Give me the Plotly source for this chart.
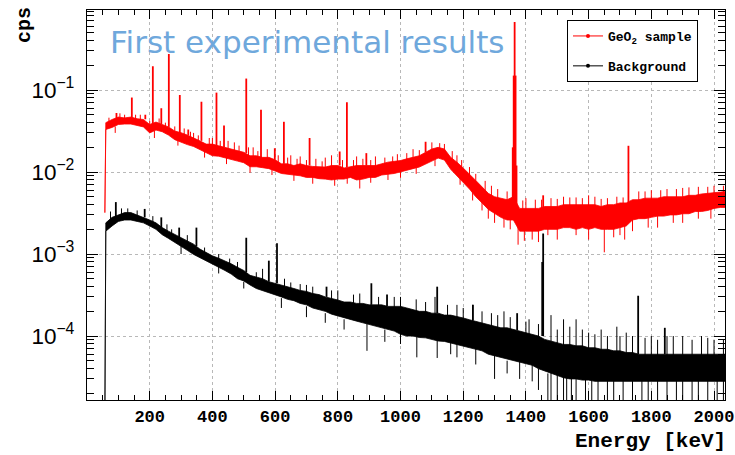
import plotly.graph_objects as go

# ---------------- data ----------------
energy_grid = [60, 80, 100, 120, 140, 160, 180, 200, 220, 240, 260, 280, 300, 320, 340, 360, 380, 400, 420, 440,
               460, 480, 500, 520, 540, 560, 580, 600, 620, 640, 660, 680, 700, 720, 740, 760, 780, 800, 820, 840,
               860, 880, 900, 920, 940, 960, 980, 1000, 1020, 1040, 1060, 1080, 1100, 1120, 1140, 1160, 1180, 1200,
               1220, 1240, 1260, 1280, 1300, 1320, 1340, 1360, 1380, 1400, 1420, 1440, 1460, 1480, 1500, 1520, 1540,
               1560, 1580, 1600, 1620, 1640, 1660, 1680, 1700, 1720, 1740, 1760, 1780, 1800, 1820, 1840, 1860, 1880,
               1900, 1920, 1940, 1960, 1980, 2000, 2020, 2040]

# GeO2 sample: upper / lower edge of the noise band (cps)
geo2_upper = [0.040, 0.0437, 0.0468, 0.0457, 0.0468, 0.0447, 0.0437, 0.0380, 0.0407, 0.0380, 0.0355, 0.0316, 0.0302,
              0.0282, 0.0263, 0.0240, 0.0219, 0.0219, 0.0209, 0.0200, 0.0191, 0.0182, 0.0174, 0.0158, 0.0158, 0.0151,
              0.0151, 0.0141, 0.0126, 0.0126, 0.0120, 0.0126, 0.0120, 0.0117, 0.0117, 0.0115, 0.0120, 0.0120, 0.0112,
              0.0117, 0.0120, 0.0120, 0.0120, 0.0120, 0.0126, 0.0132, 0.0135, 0.0138, 0.0145, 0.0151, 0.0158, 0.0174,
              0.0191, 0.0200, 0.0191, 0.0151, 0.0132, 0.0112, 0.0095, 0.0079, 0.0066, 0.0055, 0.0050, 0.0048, 0.0046,
              0.0050, 0.0036, 0.0036, 0.0036, 0.0036, 0.0038, 0.0038, 0.0038, 0.0040, 0.0040, 0.0040, 0.0040, 0.0040,
              0.0040, 0.0038, 0.0040, 0.0040, 0.0042, 0.0042, 0.0046, 0.0046, 0.0048, 0.0048, 0.0048, 0.0050, 0.0050,
              0.0050, 0.0050, 0.0052, 0.0052, 0.0054, 0.0055, 0.0056, 0.0058, 0.0058]
geo2_lower = [0.0330, 0.0350, 0.0380, 0.0385, 0.0385, 0.0370, 0.0355, 0.0300, 0.0325, 0.0310, 0.0282, 0.0248, 0.0232,
              0.0216, 0.0205, 0.0188, 0.0172, 0.0158, 0.0156, 0.0150, 0.0143, 0.0136, 0.0130, 0.0116, 0.0116, 0.0113,
              0.0110, 0.0103, 0.0096, 0.0094, 0.0092, 0.0090, 0.0086, 0.0086, 0.0083, 0.0082, 0.0080, 0.0082, 0.0082,
              0.0086, 0.0080, 0.0082, 0.0086, 0.0086, 0.0092, 0.0094, 0.0096, 0.0100, 0.0105, 0.0110, 0.0115, 0.0124,
              0.0136, 0.0148, 0.0140, 0.0108, 0.0090, 0.0074, 0.0062, 0.0050, 0.0042, 0.0035, 0.0031, 0.0028, 0.0026,
              0.0026, 0.0019, 0.0019, 0.0019, 0.0019, 0.0020, 0.0020, 0.0020, 0.0021, 0.0021, 0.0020, 0.0021, 0.0020,
              0.0021, 0.0020, 0.0020, 0.0020, 0.0021, 0.0022, 0.0026, 0.0027, 0.0027, 0.0028, 0.0029, 0.0029, 0.0030,
              0.0030, 0.0031, 0.0031, 0.0033, 0.0033, 0.0034, 0.0036, 0.0037, 0.0037]

# Background: upper / lower edge of the noise band (cps)
bkg_upper = [0.0024, 0.0028, 0.0030, 0.0032, 0.0032, 0.0030, 0.0028, 0.0026, 0.0024, 0.0021, 0.0019, 0.00174, 0.00158,
             0.00145, 0.00132, 0.00115, 0.00105, 0.00095, 0.00089, 0.00083, 0.00076, 0.00069, 0.00063, 0.00055,
             0.00052, 0.00050, 0.00046, 0.00044, 0.00042, 0.00040, 0.00038, 0.00036, 0.00035, 0.00033, 0.00032,
             0.00030, 0.00029, 0.000275, 0.00026, 0.00026, 0.00025, 0.00025, 0.00024, 0.00024, 0.00024, 0.00023,
             0.00023, 0.00023, 0.00022, 0.00021, 0.00020, 0.00020, 0.00019, 0.00019, 0.00018, 0.00018, 0.000174,
             0.000166, 0.000158, 0.000151, 0.000145, 0.000138, 0.000132, 0.000126, 0.000126, 0.00012, 0.000115,
             0.00011, 0.000105, 0.0001, 0.000091, 0.000087, 0.000083, 0.000079, 0.000079, 0.000076, 0.000076,
             0.000072, 0.000072, 0.000069, 0.000069, 0.000066, 0.000066, 0.000063, 0.000063, 0.00006, 0.00006,
             0.00006, 0.00006, 0.00006, 0.00006, 0.00006, 0.00006, 0.00006, 0.00006, 0.00006, 0.00006, 0.00006,
             0.00006, 0.00006]
bkg_lower = [0.0019, 0.0022, 0.0025, 0.0026, 0.0026, 0.0025, 0.0024, 0.0022, 0.0020, 0.00172, 0.00155, 0.0014, 0.00125,
             0.00111, 0.00099, 0.0009, 0.00082, 0.00075, 0.00069, 0.00063, 0.00057, 0.0005, 0.00047, 0.00042,
             0.00038, 0.00036, 0.00034, 0.00032, 0.0003, 0.00028, 0.00027, 0.00025, 0.00024, 0.00022, 0.00021,
             0.0002, 0.000185, 0.000175, 0.000165, 0.00016, 0.000152, 0.000145, 0.000138, 0.000132, 0.000126,
             0.00012, 0.000115, 0.000105, 0.0001, 0.0001, 0.000096, 0.000095, 0.00009, 0.000087, 0.000086,
             0.000083, 0.000079, 0.000076, 0.000072, 0.000069, 0.000066, 0.00006, 0.000057, 0.000055, 0.000052,
             0.00005, 0.000048, 0.000046, 0.000044, 0.00004, 0.000037, 0.000035, 0.000033, 0.000031, 0.00003,
             0.00003, 0.000029, 0.000029, 0.000028, 0.000028, 0.000028, 0.000028, 0.000028, 0.000028, 0.000028,
             0.000028, 0.000028, 0.000028, 0.000028, 0.000028, 0.000028, 0.000028, 0.000028, 0.000028, 0.000028,
             0.000028, 0.000028, 0.000028, 0.000028, 0.000028]

# first bin (spectrum start edge)
geo2_start_E, geo2_start_val = 57, 0.0032
bkg_start_E, bkg_start_val = 57, 0.00001

# gamma lines: energy, tip, base (cps)
geo2_peak_E = [94, 143, 186, 210, 237, 261, 296, 323, 365, 413, 437, 508, 555, 599, 628, 710, 806, 829, 891, 1080,
               1358, 1361, 1364, 1367, 1370, 1455, 1727]
geo2_peak_top = [0.0525, 0.081, 0.050, 0.195, 0.060, 0.275, 0.087, 0.033, 0.072, 0.093, 0.037, 0.138, 0.0575, 0.0195,
                 0.041, 0.026, 0.0178, 0.071, 0.017, 0.0234, 0.02, 0.15, 0.676, 0.15, 0.012, 0.0052, 0.0209]
geo2_peak_base = [0.044, 0.046, 0.044, 0.038, 0.038, 0.0355, 0.030, 0.028, 0.024, 0.021, 0.020, 0.017, 0.015, 0.0141,
                  0.0126, 0.012, 0.012, 0.0115, 0.012, 0.0174, 0.0045, 0.0045, 0.0045, 0.0040, 0.0036, 0.0036, 0.0042]

bkg_peak_E = [92, 184, 237, 294, 349, 508, 580, 606, 764, 907, 957, 1117, 1231, 1372, 1452, 1455, 1758, 1843]
bkg_peak_top = [0.0043, 0.00355, 0.0028, 0.0021, 0.0021, 0.00158, 0.00083, 0.00135, 0.0004, 0.00044, 0.00032, 0.0004,
                0.00024, 0.00019, 0.0008, 0.00178, 0.00031, 0.000126]
bkg_peak_base = [0.0028, 0.0028, 0.0021, 0.00158, 0.00125, 0.0006, 0.00046, 0.00044, 0.0003, 0.00024, 0.00023,
                 0.00019, 0.000155, 0.000118, 0.0001, 0.0001, 0.00006, 0.00006]

# statistical fluctuations poking out of the band: energy, tip, base (cps)
geo2_spike_E = [70, 105, 120, 155, 170, 200, 230, 250, 280, 310, 330, 340, 355, 390, 400, 425, 450, 470, 485, 515,
                530, 545, 575, 610, 640, 650, 670, 680, 700, 730, 750, 760, 780, 815, 850, 860, 880, 905, 920, 950,
                975, 990, 1020, 1040, 1060, 1100, 1125, 1140, 1165, 1180, 1195, 1220, 1240, 1270, 1290, 1310, 1340,
                1390, 1400, 1430, 1450, 1480, 1500, 1520, 1540, 1560, 1580, 1600, 1620, 1640, 1660, 1690, 1710,
                1760, 1780, 1800, 1830, 1850, 1880, 1900, 1920, 1950, 1980, 2000, 2030,
                90, 215, 290, 375, 445, 520, 590, 660, 720, 790, 830, 870, 905, 960, 1000, 1050, 1110, 1190, 1230,
                1260, 1280, 1300, 1330, 1350, 1375, 1395, 1420, 1440, 1470, 1500, 1560, 1600, 1650, 1680, 1700,
                1715, 1740, 1790, 1820, 1870, 1900, 1950, 1990]
geo2_spike_tip = [0.046, 0.052, 0.050, 0.050, 0.050, 0.042, 0.045, 0.040, 0.036, 0.034, 0.031, 0.030, 0.028, 0.026,
                  0.026, 0.024, 0.024, 0.023, 0.021, 0.020, 0.020, 0.018, 0.019, 0.016, 0.015, 0.016, 0.0145, 0.0155,
                  0.014, 0.0145, 0.0135, 0.015, 0.016, 0.014, 0.014, 0.0155, 0.0145, 0.014, 0.0155, 0.015, 0.0155,
                  0.0165, 0.017, 0.019, 0.0185, 0.023, 0.0225, 0.022, 0.018, 0.016, 0.014, 0.0115, 0.0095, 0.0078,
                  0.0068, 0.0062, 0.0058, 0.0045, 0.0048, 0.0046, 0.0046, 0.0048, 0.0047, 0.0050, 0.0049, 0.0049,
                  0.0048, 0.0052, 0.0050, 0.0047, 0.0048, 0.0050, 0.0049, 0.0058, 0.0058, 0.0060, 0.0060, 0.0062,
                  0.0062, 0.0064, 0.0065, 0.0066, 0.0066, 0.0068, 0.0068,
                  0.030, 0.026, 0.021, 0.015, 0.0125, 0.0098, 0.0092, 0.0078, 0.0072, 0.0068, 0.0072, 0.0063, 0.0074,
                  0.0080, 0.0085, 0.0095, 0.0118, 0.0070, 0.0045, 0.0034, 0.0027, 0.0024, 0.0021, 0.0020, 0.0013,
                  0.00145, 0.0015, 0.0014, 0.0017, 0.0015, 0.0017, 0.0015, 0.00105, 0.0016, 0.0017, 0.0015, 0.0019,
                  0.0021, 0.0021, 0.0024, 0.0024, 0.0027, 0.0027]
geo2_spike_base = [0.040, 0.045, 0.042, 0.044, 0.040, 0.036, 0.036, 0.034, 0.028, 0.028, 0.026, 0.023, 0.023, 0.019,
                   0.020, 0.019, 0.017, 0.016, 0.017, 0.016, 0.013, 0.014, 0.012, 0.013, 0.012, 0.010, 0.011, 0.010,
                   0.011, 0.011, 0.011, 0.0095, 0.0095, 0.011, 0.011, 0.0095, 0.011, 0.011, 0.010, 0.012, 0.012,
                   0.011, 0.013, 0.0125, 0.014, 0.016, 0.017, 0.017, 0.012, 0.011, 0.009, 0.008, 0.006, 0.005, 0.0042,
                   0.004, 0.0035, 0.0028, 0.0026, 0.0026, 0.0028, 0.0028, 0.0028, 0.0028, 0.003, 0.0028, 0.003,
                   0.0028, 0.003, 0.0027, 0.003, 0.0028, 0.003, 0.0034, 0.0036, 0.0035, 0.0038, 0.0038, 0.004, 0.0040,
                   0.004, 0.0042, 0.0043, 0.0045, 0.0045,
                   0.036, 0.032, 0.026, 0.019, 0.016, 0.013, 0.012, 0.010, 0.0095, 0.009, 0.009, 0.0095, 0.0095,
                   0.0105, 0.012, 0.012, 0.015, 0.0095, 0.006, 0.0052, 0.0036, 0.0038, 0.0028, 0.0034, 0.0026,
                   0.0026, 0.0026, 0.002, 0.0027, 0.0021, 0.0028, 0.0021, 0.0028, 0.0021, 0.0029, 0.0029, 0.0027,
                   0.0034, 0.003, 0.0038, 0.0032, 0.004, 0.0036]

bkg_spike_E = [75, 110, 130, 160, 210, 255, 270, 320, 375, 420, 455, 480, 540, 560, 630, 650, 680, 700, 720, 780, 800,
               850, 870, 930, 980, 1000, 1050, 1080, 1110, 1150, 1180, 1200, 1230, 1260, 1290, 1310, 1330, 1350, 1400,
               1410, 1440, 1480, 1500, 1520, 1540, 1560, 1580, 1600, 1620, 1640, 1660, 1690, 1700, 1720, 1740, 1780,
               1800, 1820, 1850, 1870, 1900, 1930, 1960, 1980, 2000, 2030,
               300, 420, 500, 620, 700, 760, 820, 893, 950, 1000, 1052, 1117, 1160, 1180, 1240, 1300, 1340, 1380,
               1420, 1440, 1470, 1480, 1500, 1520, 1530, 1545, 1560, 1590, 1610, 1630, 1660, 1680, 1710, 1740, 1770,
               1790, 1820, 1850, 1880, 1900, 1930, 1950, 1980, 2010, 2030]
bkg_spike_tip = [0.0033, 0.0036, 0.0036, 0.0034, 0.0029, 0.0023, 0.0020, 0.0017, 0.0012, 0.0010, 0.00088, 0.0008,
                 0.0006, 0.00066, 0.0005, 0.00045, 0.00043, 0.00042, 0.0004, 0.00036, 0.00036, 0.00032, 0.00033,
                 0.0003, 0.0003, 0.0003, 0.00028, 0.00026, 0.0003, 0.00024, 0.00024, 0.00022, 0.00024, 0.0002,
                 0.00019, 0.00018, 0.0002, 0.00017, 0.00015, 0.00016, 0.00014, 0.00018, 0.00012, 0.00016, 0.00013,
                 0.00016, 0.00012, 0.00011, 0.000105, 0.00012, 0.0001, 0.00013, 0.0001, 0.00011, 0.0001, 0.000095,
                 0.0001, 0.00009, 0.0001, 0.0001, 0.0001, 0.00009, 0.0001, 0.000095, 0.00009, 0.00009,
                 0.001, 0.00058, 0.00038, 0.00022, 0.00017, 0.000145, 0.00012, 0.000066, 0.000085, 0.00008,
                 0.000055, 0.000054, 0.00006, 0.000055, 0.000045, 0.00003, 0.000035, 0.00003, 0.000028, 0.000022,
                 0.00001, 0.00001, 0.00001, 0.00001, 0.00001, 0.00001, 0.00001, 0.00001, 0.00001, 0.00001, 0.00001,
                 0.00001, 0.00001, 0.00001, 0.00001, 0.00001, 0.00001, 0.00001, 0.00001, 0.00001, 0.00001, 0.00001,
                 0.00001, 0.00001, 0.00001]
bkg_spike_base = [0.0025, 0.0029, 0.0029, 0.0028, 0.0023, 0.0018, 0.0016, 0.0013, 0.00095, 0.0008, 0.00068, 0.0006,
                  0.00045, 0.00045, 0.00038, 0.00032, 0.0003, 0.00028, 0.0003, 0.00025, 0.00024, 0.00022, 0.00022,
                  0.0002, 0.0002, 0.00018, 0.00016, 0.00016, 0.00014, 0.00015, 0.00013, 0.00014, 0.00011, 0.00012,
                  0.0001, 0.00011, 0.0001, 0.0001, 0.00009, 0.00008, 0.00008, 0.00006, 0.00007, 0.00005, 0.00007,
                  0.00005, 0.00006, 0.00005, 0.00006, 0.00004, 0.00005, 0.00004, 0.00005, 0.00004, 0.00005, 0.00005,
                  0.00004, 0.00005, 0.00005, 0.00004, 0.00004, 0.00005, 0.00004, 0.00005, 0.00004, 0.00005,
                  0.0013, 0.0007, 0.00046, 0.00029, 0.00023, 0.00019, 0.00016, 0.00016, 0.00012, 0.00011, 0.00012,
                  0.00012, 0.00011, 0.00008, 0.00007, 0.00008, 0.00005, 0.00007, 0.00007, 0.00004, 0.000035,
                  0.00005, 0.000035, 0.00005, 0.000032, 0.000032, 0.000035, 0.000032, 0.000032, 0.000032, 0.000032,
                  0.000032, 0.000032, 0.000032, 0.000032, 0.000032, 0.000032, 0.000032, 0.000032, 0.000032, 0.000032,
                  0.000032, 0.000032, 0.000032, 0.000032]

x_tick_vals = [200, 400, 600, 800, 1000, 1200, 1400, 1600, 1800, 2000]

for arr in (geo2_upper, geo2_lower, bkg_upper, bkg_lower):
    assert len(arr) == len(energy_grid), len(arr)
assert len(geo2_peak_E) == len(geo2_peak_top) == len(geo2_peak_base)
assert len(bkg_peak_E) == len(bkg_peak_top) == len(bkg_peak_base)
assert len(geo2_spike_E) == len(geo2_spike_tip) == len(geo2_spike_base)
assert len(bkg_spike_E) == len(bkg_spike_tip) == len(bkg_spike_base)

RED = "#ff0000"
BLACK = "#000000"


def band(E, up, lo, e0, v0):
    xs = [e0] + list(E) + list(E[::-1]) + [e0]
    ys = [v0] + list(up) + list(lo[::-1]) + [v0]
    return xs, ys


def segments(E, a, b):
    xs, ys = [], []
    for e, p, q in zip(E, a, b):
        xs += [e, e, None]
        ys += [p, q, None]
    return xs, ys


fig = go.Figure()

for E0, V0, up, lo, pe, pt, pb, se, st, sb, col in [
    (geo2_start_E, geo2_start_val, geo2_upper, geo2_lower, geo2_peak_E, geo2_peak_top, geo2_peak_base,
     geo2_spike_E, geo2_spike_tip, geo2_spike_base, RED),
    (bkg_start_E, bkg_start_val, bkg_upper, bkg_lower, bkg_peak_E, bkg_peak_top, bkg_peak_base,
     bkg_spike_E, bkg_spike_tip, bkg_spike_base, BLACK),
]:
    bx, by = band(energy_grid, up, lo, E0, V0)
    fig.add_trace(go.Scatter(x=bx, y=by, mode="lines", fill="toself", fillcolor=col,
                             line=dict(color=col, width=0.8), showlegend=False, hoverinfo="skip"))
    sx, sy = segments(se, sb, st)
    fig.add_trace(go.Scatter(x=sx, y=sy, mode="lines", line=dict(color=col, width=1),
                             showlegend=False, hoverinfo="skip"))
    px, py = segments(pe, pb, pt)
    fig.add_trace(go.Scatter(x=px, y=py, mode="lines", line=dict(color=col, width=1.8),
                             showlegend=False, hoverinfo="skip"))

# legend entries
fig.add_trace(go.Scatter(x=[None], y=[None], mode="lines+markers", name="GeO<sub>2</sub> sample",
                         line=dict(color=RED, width=1), marker=dict(color=RED, size=4), legendgroup="a"))
fig.add_trace(go.Scatter(x=[None], y=[None], mode="lines+markers", name="Background",
                         line=dict(color=BLACK, width=1), marker=dict(color=BLACK, size=4), legendgroup="b"))

MONO = "Liberation Mono"
L, R, T, B = 87, 10, 10, 55
W, H = 735, 455
pw, ph = W - L - R, H - T - B


def px2paper_x(x):
    return (x - L) / pw


def px2paper_y(y):
    return (H - B - y) / ph


fig.update_layout(
    width=W, height=H,
    margin=dict(l=L, r=R, t=T, b=B, autoexpand=False),
    paper_bgcolor="white", plot_bgcolor="white",
    showlegend=True,
    legend=dict(x=px2paper_x(567), y=px2paper_y(20), xanchor="left", yanchor="top",
                bgcolor="white", bordercolor="black", borderwidth=1,
                font=dict(family=MONO, size=13, color="black", weight="bold"),
                tracegroupgap=10, itemwidth=30),
    xaxis=dict(range=[0, 2035], tickmode="array", tickvals=x_tick_vals,
               showline=True, linecolor="black", linewidth=1, mirror="allticks",
               ticks="inside", ticklen=9, tickcolor="black", tickwidth=1,
               showgrid=True, gridcolor="#b8b8b8", griddash="dot", gridwidth=1, zeroline=False,
               minor=dict(ticks="inside", ticklen=5, tickcolor="black", tickmode="linear", tick0=0, dtick=50,
                          showgrid=False),
               tickfont=dict(family=MONO, size=17, color="black", weight="bold"),
               ticklabelstandoff=1),
    yaxis=dict(type="log", range=[-4.78, -0.024], dtick=1, exponentformat="power",
               showline=True, linecolor="black", linewidth=1, mirror="allticks",
               ticks="inside", ticklen=11, tickcolor="black", tickwidth=1,
               showgrid=True, gridcolor="#b8b8b8", griddash="dot", gridwidth=1, zeroline=False,
               minor=dict(ticks="inside", ticklen=7, tickcolor="black", dtick="D1", showgrid=False),
               tickfont=dict(family="Liberation Sans", size=18, color="black"),
               ticklabelstandoff=8),
    annotations=[
        dict(text="cps", x=px2paper_x(25), y=px2paper_y(25), xref="paper", yref="paper",
             xanchor="center", yanchor="middle", textangle=-90, showarrow=False,
             font=dict(family=MONO, size=20, color="black", weight="bold")),
        dict(text="Energy [keV]", x=px2paper_x(728), y=px2paper_y(441), xref="paper", yref="paper",
             xanchor="right", yanchor="middle", showarrow=False,
             font=dict(family=MONO, size=21, color="black", weight="bold")),
        dict(text="First experimental results", x=px2paper_x(108), y=px2paper_y(42), xref="paper", yref="paper",
             xanchor="left", yanchor="middle", showarrow=False,
             font=dict(family="DejaVu Sans", size=31, color="#6fa8dc")),
    ],
)

fig.write_html("out.html", config={"displayModeBar": False},
               post_script="document.body.style.margin='0px';")
